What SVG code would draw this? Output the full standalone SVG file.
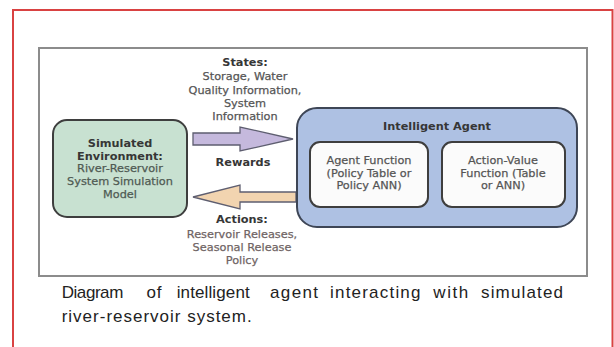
<svg xmlns="http://www.w3.org/2000/svg" width="614" height="347" viewBox="0 0 614 347">
<style>
  .t { font-family: "DejaVu Sans", "Liberation Sans", sans-serif; font-size: 11.3px; text-anchor: middle; }
  .b { font-weight: bold; fill: #363636; }
  .g { fill: #555555; stroke: #555555; stroke-width: 0.25; }
  .gg { fill: #4f5a53; stroke: #4f5a53; stroke-width: 0.25; }
  .ga { fill: #6f6464; stroke: #6f6464; stroke-width: 0.25; }
  .box { stroke-width: 2; }
  .cap { font-family: "Liberation Sans", Arial, sans-serif; font-size: 17px; fill: #222222; }
  .arrow { stroke: #5e5e70; stroke-width: 1.3; stroke-linejoin: miter; }
</style>
<rect x="0" y="0" width="614" height="347" fill="#ffffff"/>
<!-- red frame -->
<path d="M13 347 V10 H612.5 V347" fill="none" stroke="#d94242" stroke-width="2"/>
<!-- gray frame -->
<rect x="39" y="48" width="548" height="228" fill="#ffffff" stroke="#8c8c8c" stroke-width="2"/>

<g id="connectors">
  <polygon class="arrow" points="193,133 240,133 240,127 293,139 240,151 240,145 193,145" fill="#c5b9dd"/>
  <polygon class="arrow" points="296,192 240,192 240,185 193,197 240,209 240,202 296,202" fill="#f2d4b0" stroke="#76664f"/>
</g>

<g id="states-label">
  <text class="t b" x="245" y="66">States:</text>
  <text class="t g" x="245" y="80">Storage, Water</text>
  <text class="t g" x="245" y="93.5">Quality Information,</text>
  <text class="t g" x="245" y="106.5">System</text>
  <text class="t g" x="245" y="120">Information</text>
</g>
<g id="rewards-label">
  <text class="t b" x="243" y="166">Rewards</text>
</g>
<g id="actions-label">
  <text class="t b" x="242" y="223">Actions:</text>
  <text class="t ga" x="242" y="237.5">Reservoir Releases,</text>
  <text class="t ga" x="242" y="251">Seasonal Release</text>
  <text class="t ga" x="242" y="264">Policy</text>
</g>

<g id="environment">
  <rect class="box" x="53" y="120" width="134" height="97" rx="14" fill="#c8e1d1" stroke="#3e3e3e"/>
  <text class="t b" x="120" y="146.5">Simulated</text>
  <text class="t b" x="120" y="159.5">Environment:</text>
  <text class="t gg" x="120" y="172">River-Reservoir</text>
  <text class="t gg" x="120" y="184.5">System Simulation</text>
  <text class="t gg" x="120" y="197.5">Model</text>
</g>

<g id="intelligent-agent">
  <rect class="box" x="297" y="108" width="280" height="119" rx="20" fill="#aec1e3" stroke="#3e4656"/>
  <text class="t b" x="437" y="129.5">Intelligent Agent</text>
</g>
<g id="agent-function">
  <rect class="box" x="310" y="142" width="118" height="65" rx="10" fill="#fbfbfb" stroke="#3e3e3e"/>
  <text class="t g" x="369" y="164">Agent Function</text>
  <text class="t g" x="369" y="176.5">(Policy Table or</text>
  <text class="t g" x="369" y="189">Policy ANN)</text>
</g>
<g id="action-value-function">
  <rect class="box" x="442" y="142" width="123" height="65" rx="10" fill="#fbfbfb" stroke="#3e3e3e"/>
  <text class="t g" x="503" y="164">Action-Value</text>
  <text class="t g" x="503" y="176.5">Function (Table</text>
  <text class="t g" x="503" y="189">or ANN)</text>
</g>

<g id="caption">
  <text class="cap" y="298">
    <tspan x="61.7" textLength="61.6" lengthAdjust="spacing">Diagram</tspan>
    <tspan x="146.5" textLength="15" lengthAdjust="spacing">of</tspan>
    <tspan x="176.7" textLength="73" lengthAdjust="spacing">intelligent</tspan>
    <tspan x="270" textLength="48" lengthAdjust="spacing">agent</tspan>
    <tspan x="330" textLength="90.5" lengthAdjust="spacing">interacting</tspan>
    <tspan x="433.3" textLength="35" lengthAdjust="spacing">with</tspan>
    <tspan x="481" textLength="82" lengthAdjust="spacing">simulated</tspan>
  </text>
  <text class="cap" x="61.7" y="321.5" textLength="190" lengthAdjust="spacing">river-reservoir system.</text>
</g>
</svg>
